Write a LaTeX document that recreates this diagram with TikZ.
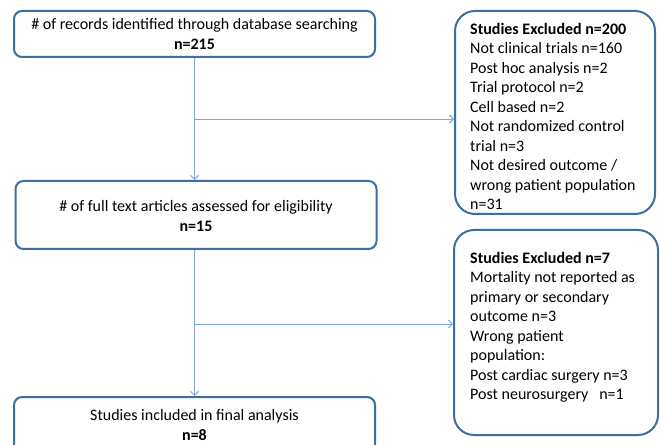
\documentclass[tikz,border=0pt]{standalone}
\usepackage{fontspec}
\setmainfont{Carlito}
\usetikzlibrary{arrows.meta,calc}
\definecolor{boxblue}{HTML}{3B6EA5}
\definecolor{lineblue}{HTML}{7EA6DC}
\tikzset{
  box/.style={draw=boxblue, line width=2pt, rounded corners=8pt, fill=white, inner sep=0pt},
  exbox/.style={draw=boxblue, line width=2pt, rounded corners=20pt, fill=white, inner sep=0pt},
  flow/.style={draw=lineblue, line width=0.9pt, -{Straight Barb[length=4pt,width=8pt]}},
  txt/.style={font=\fontsize{16pt}{20pt}\selectfont, align=center, inner sep=0pt},
  extxt/.style={font=\fontsize{16pt}{19.5pt}\selectfont, align=left, anchor=north west, inner sep=0pt},
}
\begin{document}
\begin{tikzpicture}[x=1pt,y=1pt]
\clip (0,0) rectangle (660,444);
\fill[white] (0,0) rectangle (660,444);
% main boxes (y = 444 - pixel)
\node[box, minimum width=361pt, minimum height=46pt] (b1) at (194.5,410) {};
\node[txt] (b1t) at (b1.center) {\# of records identified through database searching\\\textbf{n=215}};
\node[box, minimum width=361pt, minimum height=68pt] (b2) at (196,229) {};
\node[txt] (b2t) at ($(b2.center)+(0,-1)$) {\# of full text articles assessed for eligibility\\\textbf{n=15}};
\node[box, minimum width=361pt, minimum height=70pt] (b3) at (194.5,12) {};
\node[txt, anchor=north] (b3t) at ($(b3.north)+(0,-13)$) {Studies included in final analysis\\\textbf{n=8}};
% excluded boxes
\node[exbox, minimum width=200pt, minimum height=203pt] (e1) at (555,331.5) {};
\node[extxt] (e1t) at ($(e1.north west)+(16,-13)$) {\textbf{Studies Excluded n=200}\\
Not clinical trials n=160\\
Post hoc analysis n=2\\
Trial protocol n=2\\
Cell based n=2\\
Not randomized control\\
trial n=3\\
Not desired outcome /\\
wrong patient population\\
n=31};
\node[exbox, minimum width=204pt, minimum height=205pt] (e2) at (556,111.5) {};
\node[extxt] (e2t) at ($(e2.north west)+(17,-23)$) {\textbf{Studies Excluded n=7}\\
Mortality not reported as\\
primary or secondary\\
outcome n=3\\
Wrong patient\\
population:\\
Post cardiac surgery n=3\\
Post neurosurgery \ \ n=1};
% connectors
\draw[flow] (b1.south) -- (b1.south |- b2.north);
\coordinate (j1) at ($(b1.south)!0.5!(b1.south |- b2.north)$);
\draw[flow] (j1) -- (j1 -| e1.west);
\draw[flow] (b2.south -| b1.south) -- (b1.south |- b3.north);
\coordinate (j2) at (194.5,120);
\draw[flow] (j2) -- (j2 -| e2.west);
\end{tikzpicture}
\end{document}
